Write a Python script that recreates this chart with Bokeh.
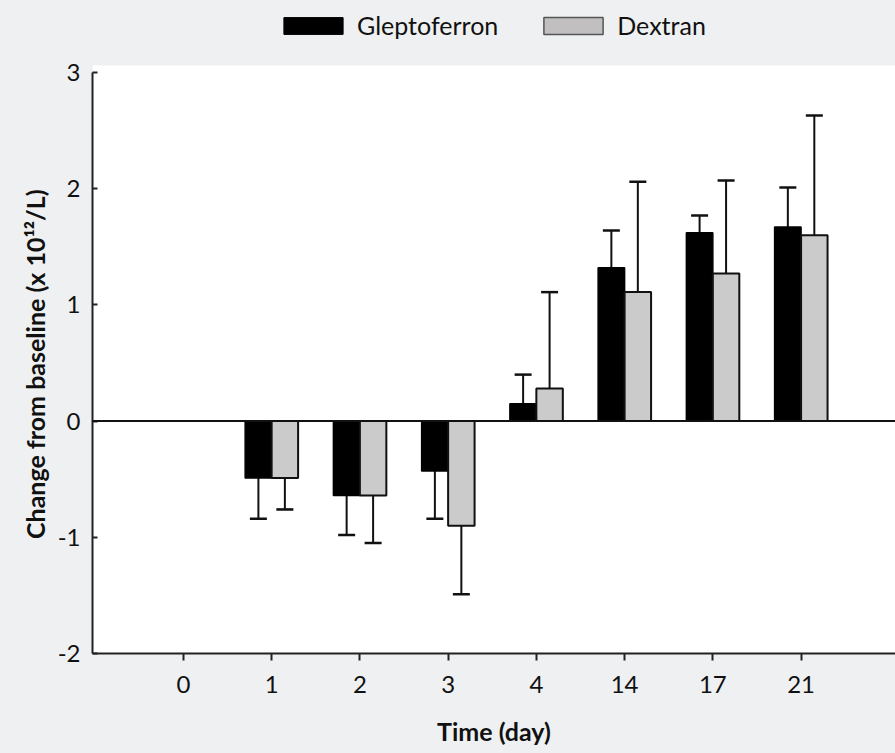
from bokeh.plotting import figure
from bokeh.models import Range1d, FixedTicker, Span, Legend, LegendItem, ColumnDataSource, BoxAnnotation, Title
from bokeh.embed import file_html
from bokeh.resources import INLINE

# ---- data ----
days = ["0", "1", "2", "3", "4", "14", "17", "21"]
glepto_mean = [None, -0.49, -0.64, -0.43, 0.15, 1.32, 1.62, 1.67]
glepto_sd = [None, 0.35, 0.34, 0.41, 0.25, 0.32, 0.15, 0.34]
dextran_mean = [None, -0.49, -0.64, -0.90, 0.28, 1.11, 1.27, 1.60]
dextran_sd = [None, 0.27, 0.41, 0.59, 0.83, 0.95, 0.80, 1.03]
y_ticks = [-2, -1, 0, 1, 2, 3]

BG = "#eff0f2"
FONT = "Lato"

Y_MIN, Y_MAX = y_ticks[0], y_ticks[-1]
AXIS_PX = 581
PX_PER_UNIT = AXIS_PX / (Y_MAX - Y_MIN)
FRAME_H = 653
y_top = Y_MIN + FRAME_H / PX_PER_UNIT

p = figure(frame_width=803, frame_height=FRAME_H,
           min_border_left=92, min_border_right=0, min_border_top=0, min_border_bottom=100,
           x_range=Range1d(-1.03, 8.07), y_range=Range1d(Y_MIN, y_top),
           output_backend="svg", toolbar_location=None,
           background_fill_color=BG, border_fill_color=BG)
p.outline_line_color = None
p.xgrid.visible = False
p.ygrid.visible = False

# white plotting panel
p.add_layout(BoxAnnotation(bottom=Y_MIN, top=Y_MAX + 7 / PX_PER_UNIT,
                           fill_color="white", fill_alpha=1, line_color=None, level="underlay"))

def build(means, sds, offset):
    xs, tops, ends = [], [], []
    for i, (m, s) in enumerate(zip(means, sds)):
        if m is None:
            continue
        xs.append(i + offset)
        tops.append(m)
        ends.append(m + s if m >= 0 else m - s)
    return ColumnDataSource(dict(x=xs, top=tops, end=ends))

src_g = build(glepto_mean, glepto_sd, -0.15)
src_d = build(dextran_mean, dextran_sd, 0.15)

for src in (src_g, src_d):
    p.segment(x0="x", y0="top", x1="x", y1="end", source=src, line_color="#111111", line_width=2)
    p.scatter(x="x", y="end", source=src, marker="dash", size=17, line_color="#111111", line_width=2.5)

rg = p.vbar(x="x", top="top", bottom=0, width=0.3, source=src_g,
            fill_color="#000000", line_color="#000000", line_width=1.5)
rd = p.vbar(x="x", top="top", bottom=0, width=0.3, source=src_d,
            fill_color="#cbcbcb", line_color="#111111", line_width=2)

p.add_layout(Span(location=0, dimension="width", line_color="#111111", line_width=2))

# legend swatch renderers (placed outside the visible range)
lg = p.rect(x=[-10], y=[-10], width=0.1, height=0.1, fill_color="#000000", line_color="#000000")
ld = p.rect(x=[-10], y=[-10], width=0.1, height=0.1, fill_color="#c1bfbf", line_color="#555555", line_width=1.5)

legend = Legend(items=[LegendItem(label="Gleptoferron", renderers=[lg]),
                       LegendItem(label="Dextran", renderers=[ld])],
                orientation="horizontal", location=(184, 613),
                glyph_width=74, glyph_height=21, label_standoff=7,
                spacing=38, padding=0, margin=0,
                background_fill_alpha=0, border_line_color=None,
                label_text_font=FONT, label_text_font_size="25px", label_text_color="#111111")
p.add_layout(legend, "center")

# x axis
p.xaxis.ticker = FixedTicker(ticks=list(range(len(days))))
p.xaxis.major_label_overrides = {i: d for i, d in enumerate(days)}
p.xaxis.axis_label = "Time (day)"
p.xaxis.axis_line_width = 2
p.xaxis.axis_line_color = "#222222"
p.xaxis.major_tick_in = 0
p.xaxis.major_tick_out = 7
p.xaxis.major_tick_line_width = 2
p.xaxis.major_tick_line_color = "#222222"
p.xaxis.minor_tick_line_color = None
p.xaxis.major_label_standoff = 15
p.xaxis.major_label_text_font = FONT
p.xaxis.major_label_text_font_size = "24px"
p.xaxis.major_label_text_color = "#111111"
p.xaxis.axis_label_standoff = 20
p.xaxis.axis_label_text_font = FONT
p.xaxis.axis_label_text_font_size = "25px"
p.xaxis.axis_label_text_font_style = "bold"
p.xaxis.axis_label_text_color = "#111111"

# y axis
p.yaxis.ticker = FixedTicker(ticks=y_ticks)
p.yaxis.bounds = (Y_MIN, Y_MAX)
p.yaxis.major_label_overrides = {t: str(t) for t in y_ticks}
p.yaxis.axis_line_width = 2
p.yaxis.axis_line_color = "#222222"
p.yaxis.major_tick_in = 5
p.yaxis.major_tick_out = 0
p.yaxis.major_tick_line_width = 2
p.yaxis.major_tick_line_color = "#222222"
p.yaxis.minor_tick_line_color = None
p.yaxis.major_label_standoff = 12
p.yaxis.major_label_text_font = FONT
p.yaxis.major_label_text_font_size = "24px"
p.yaxis.major_label_text_color = "#111111"

# y axis title, centred on the axis span (not on the taller frame)
TITLE_LEN_PX = 352
axis_center_from_bottom = (Y_MAX - Y_MIN) * PX_PER_UNIT / 2
ytitle = Title(text="Change from baseline (x 10\u00b9\u00b2/L)", align="left",
               offset=axis_center_from_bottom - TITLE_LEN_PX / 2, standoff=10,
               text_font=FONT, text_font_size="25px", text_font_style="bold",
               text_color="#111111")
p.add_layout(ytitle, "left")

html = file_html(p, INLINE)
html = html.replace("</head>", "<style>html,body{background-color:#eff0f2;}</style></head>", 1)
open("out.html", "w").write(html)
